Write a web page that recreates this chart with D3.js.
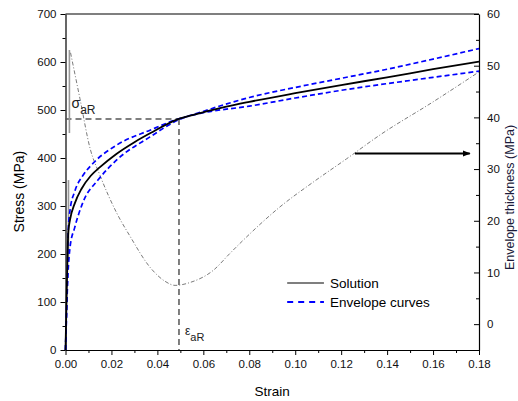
<!DOCTYPE html>
<html><head><meta charset="utf-8">
<script src="https://cdn.jsdelivr.net/npm/d3@7"></script>
<style>body{margin:0;background:#fff}svg{display:block;font-family:"Liberation Sans",Arial,sans-serif}</style>
</head><body><svg id="c" width="518" height="401"></svg>
<script>
const solution = [[0,0],[0.0009,200],[0.0012,245],[0.002,272],[0.004,305],[0.007,336],[0.011,363],[0.015,381],[0.022,408],[0.03,433],[0.037,452],[0.049,481],[0.059,494],[0.07,507],[0.08,517],[0.10,535],[0.12,552],[0.14,568],[0.16,585],[0.18,601]];
const envelopeA = [[0,0],[0.0008,150],[0.0012,250],[0.002,292],[0.004,330],[0.0078,365],[0.012,389],[0.0223,427],[0.0368,458],[0.049,481],[0.0586,493],[0.08,508],[0.10,525],[0.12,541],[0.14,555],[0.16,568],[0.18,581]];
const envelopeB = [[0,0],[0.0011,160],[0.002,215],[0.004,255],[0.0078,310],[0.0143,355],[0.0223,396],[0.0368,444],[0.049,479],[0.0586,495],[0.08,526],[0.10,547],[0.12,566],[0.14,585],[0.16,606],[0.18,628]];
const thickness = [[0.0022,52.5],[0.0063,43.6],[0.0107,34],[0.015,28.8],[0.0223,21.5],[0.0281,17],[0.0368,11],[0.0433,8.3],[0.0477,7.5],[0.0545,8.1],[0.0643,10.4],[0.0716,13.7],[0.0789,16.9],[0.0934,22.7],[0.1079,27.5],[0.1224,32],[0.1369,36.6],[0.16,43],[0.18,48.8]];
const markerBars = [{strain:0.0017,from:452,to:625},{strain:0.0013,from:187,to:354}];
const critical = {strain:0.0494, stress:481};
const arrow = {from:0.126, to:0.176, thickness:33};
const xTicks = [0,0.02,0.04,0.06,0.08,0.10,0.12,0.14,0.16,0.18];
const yTicks = [0,100,200,300,400,500,600,700];
const y2Ticks = [0,10,20,30,40,50,60];

const svg = d3.select("#c");
const x = d3.scaleLinear([0,0.18],[65.5,479]);
const y = d3.scaleLinear([0,700],[350,14]);
const y2 = d3.scaleLinear([-5,60],[350,14]);
const FS = 11.5;

svg.append("line").attr("x1",x(0)).attr("x2",x(0.18)).attr("y1",y(700)).attr("y2",y(700)).attr("stroke","#000").attr("stroke-width",1.2);

function styleAx(g){g.selectAll("path").attr("stroke","#000").attr("stroke-width",1.2);g.selectAll("line").attr("stroke","#000");g.selectAll("text").attr("font-size",FS).attr("fill","#111").attr("font-family","Liberation Sans, Arial, sans-serif");}
const gx = svg.append("g").attr("transform",`translate(0,${y(0)})`).call(d3.axisBottom(x).tickValues(xTicks).tickSize(5).tickSizeOuter(0).tickFormat(d3.format(".2f")).tickPadding(5));
styleAx(gx);
svg.append("g").attr("transform",`translate(0,${y(0)})`).call(d3.axisBottom(x).tickValues(d3.range(0.01,0.18,0.02)).tickSize(3).tickFormat("")).call(g=>{g.select("path").remove();g.selectAll("line").attr("stroke","#000");});
const gy = svg.append("g").attr("transform",`translate(${x(0)},0)`).call(d3.axisLeft(y).tickValues(yTicks).tickSize(5).tickSizeOuter(0).tickPadding(4));
styleAx(gy);
svg.append("g").attr("transform",`translate(${x(0)},0)`).call(d3.axisLeft(y).tickValues(d3.range(50,700,100)).tickSize(3).tickFormat("")).call(g=>{g.select("path").remove();g.selectAll("line").attr("stroke","#000");});
const gy2 = svg.append("g").attr("transform",`translate(${x(0.18)},0)`).call(d3.axisRight(y2).tickValues(y2Ticks).tickSize(-5).tickSizeOuter(0).tickPadding(8));
styleAx(gy2);
svg.append("g").attr("transform",`translate(${x(0.18)},0)`).call(d3.axisRight(y2).tickValues(d3.range(5,60,10)).tickSize(-3).tickFormat("")).call(g=>{g.select("path").remove();g.selectAll("line").attr("stroke","#000");});

svg.append("text").attr("x",x(0.09)).attr("y",396).attr("text-anchor","middle").attr("font-size",13.5).text("Strain");
svg.append("text").attr("transform",`translate(24,${y(330)}) rotate(-90)`).attr("text-anchor","middle").attr("font-size",14).text("Stress (MPa)");
svg.append("text").attr("transform",`translate(514,${y2(24.5)}) rotate(-90)`).attr("text-anchor","middle").attr("font-size",12.5).attr("fill","#1a1a3a").text("Envelope thickness (MPa)");

svg.append("line").attr("x1",x(0)).attr("x2",x(critical.strain)).attr("y1",y(critical.stress)).attr("y2",y(critical.stress)).attr("stroke","#555").attr("stroke-width",1.5).attr("stroke-dasharray","6,4");
svg.append("line").attr("x1",x(critical.strain)).attr("x2",x(critical.strain)).attr("y1",y(critical.stress)).attr("y2",y(0)).attr("stroke","#555").attr("stroke-width",1.5).attr("stroke-dasharray","6,4");

svg.selectAll(".bar").data(markerBars).join("line").attr("x1",d=>x(d.strain)).attr("x2",d=>x(d.strain)).attr("y1",d=>y(d.from)).attr("y2",d=>y(d.to)).attr("stroke","#999").attr("stroke-width",1.6);

const lt = d3.line().x(d=>x(d[0])).y(d=>y2(d[1])).curve(d3.curveMonotoneX);
svg.append("path").attr("d",lt(thickness)).attr("fill","none").attr("stroke","#7a7a7a").attr("stroke-width",1).attr("stroke-dasharray","4,2,1,2");

const ls = d3.line().x(d=>x(d[0])).y(d=>y(d[1])).curve(d3.curveMonotoneX);
[envelopeA,envelopeB].forEach(s=>svg.append("path").attr("d",ls(s)).attr("fill","none").attr("stroke","#0000ff").attr("stroke-width",1.7).attr("stroke-dasharray","5,3"));
svg.append("path").attr("d",ls(solution)).attr("fill","none").attr("stroke","#000").attr("stroke-width",1.8);

svg.append("defs").append("marker").attr("id","ah").attr("viewBox","0 0 10 10").attr("refX",9).attr("refY",5).attr("markerWidth",4).attr("markerHeight",4).attr("orient","auto").append("path").attr("d","M0,1L10,5L0,9Z").attr("fill","#000");
svg.append("line").attr("x1",x(arrow.from)).attr("x2",x(arrow.to)).attr("y1",y2(arrow.thickness)).attr("y2",y2(arrow.thickness)).attr("stroke","#000").attr("stroke-width",2).attr("marker-end","url(#ah)");

const s1 = svg.append("text").attr("x",x(0)+6).attr("y",y(critical.stress)-11).attr("font-size",14).attr("fill","#222");
s1.append("tspan").text("σ");
s1.append("tspan").attr("font-size",12).attr("dy",6).text("aR");
const e1 = svg.append("text").attr("x",x(critical.strain)+6).attr("y",y(0)-15).attr("font-size",12).attr("fill","#222");
e1.append("tspan").text("ε");
e1.append("tspan").attr("font-size",11).attr("dy",6).text("aR");

const lx0 = x(0.0965), lx1 = x(0.1125);
svg.append("line").attr("x1",lx0).attr("x2",lx1).attr("y1",283).attr("y2",283).attr("stroke","#000").attr("stroke-width",1.2);
svg.append("text").attr("x",lx1+6).attr("y",288).attr("font-size",13.5).text("Solution");
svg.append("line").attr("x1",lx0).attr("x2",lx1).attr("y1",302).attr("y2",302).attr("stroke","#0000ff").attr("stroke-width",1.8).attr("stroke-dasharray","6,5");
svg.append("text").attr("x",lx1+6).attr("y",307).attr("font-size",13.5).text("Envelope curves");
</script></body></html>
